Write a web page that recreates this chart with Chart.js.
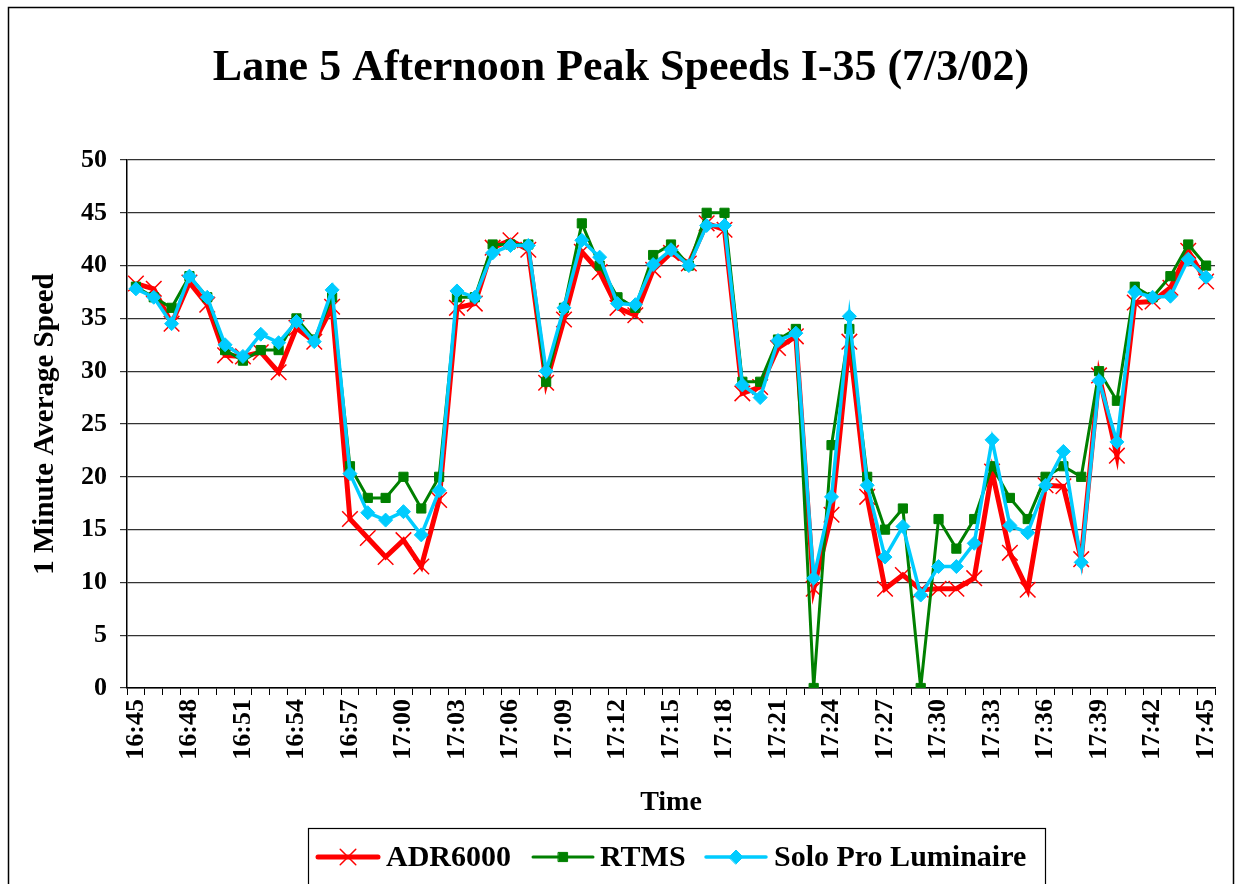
<!DOCTYPE html>
<html>
<head>
<meta charset="utf-8">
<script src="https://cdn.jsdelivr.net/npm/chart.js@4.4.1/dist/chart.umd.min.js"></script>
<style>
  html, body { margin: 0; padding: 0; background: #fff; }
  #wrap { width: 1238px; height: 884px; position: relative; }
</style>
</head>
<body>
<div id="wrap"><canvas id="c"></canvas></div>
<script>
// one-minute bins, 16:45 .. 17:45
var times = [];
for (var m = 45; m <= 105; m++) {
  var h = 16 + Math.floor(m / 60), mm = m % 60;
  times.push(h + ':' + (mm < 10 ? '0' : '') + mm);
}

var adr6000 = [38.3, 37.8, 34.5, 38.4, 36.3, 31.5, 31.4, 31.8, 29.9, 34.1, 32.8, 36.1,
  16.0, 14.2, 12.4, 14.0, 11.5, 17.8, 36.0, 36.4, 41.7, 42.4, 41.5, 28.9, 34.9, 41.3,
  39.4, 36.0, 35.3, 39.6, 41.2, 40.2, 44.0, 43.4, 27.9, 28.5, 32.2, 33.3, 9.4, 16.4,
  32.8, 18.1, 9.4, 10.7, 9.3, 9.4, 9.4, 10.4, 20.5, 12.8, 9.3, 19.2, 19.1, 12.2,
  29.6, 22.0, 36.5, 36.6, 37.9, 41.4, 38.5];

var rtms = [38, 37, 36, 39, 37, 32, 31, 32, 32, 35, 33, 37,
  21, 18, 18, 20, 17, 20, 37, 37, 42, 42, 42, 29, 36, 44,
  40, 37, 36, 41, 42, 40, 45, 45, 29, 29, 33, 34, 0, 23,
  34, 20, 15, 17, 0, 16, 13.2, 16, 21, 18, 16, 20, 21, 20,
  30, 27.2, 38, 37, 39, 42, 40];

var soloPro = [37.8, 37.0, 34.5, 39.0, 37.0, 32.5, 31.4, 33.5, 32.7, 34.7, 32.8, 37.7,
  20.3, 16.6, 15.9, 16.7, 14.5, 18.7, 37.6, 37.0, 41.2, 41.9, 41.9, 30.0, 36.0, 42.4,
  40.8, 36.4, 36.3, 40.1, 41.5, 40.0, 43.8, 43.8, 28.7, 27.5, 32.9, 33.6, 10.4, 18.1,
  35.2, 19.2, 12.4, 15.3, 8.8, 11.5, 11.5, 13.7, 23.5, 15.4, 14.7, 19.2, 22.4, 11.9,
  29.1, 23.3, 37.5, 37.0, 37.1, 40.6, 38.9];

var yTicks = [0, 5, 10, 15, 20, 25, 30, 35, 40, 45, 50];

var serif = '"Liberation Serif", "Times New Roman", serif';

var cv = document.getElementById('c');
cv.width = 1238; cv.height = 884;

// title, frame and boxed legend drawn on the canvas
var extras = {
  id: 'extras',
  afterDraw: function (chart) {
    var ctx = chart.ctx;
    ctx.save();
    ctx.strokeStyle = '#000';
    ctx.lineWidth = 1.5;
    ctx.strokeRect(8.5, 7.5, 1225, 890);

    ctx.fillStyle = '#000';
    ctx.font = 'bold 44px ' + serif;
    ctx.textAlign = 'center';
    ctx.textBaseline = 'alphabetic';
    ctx.fillText('Lane 5 Afternoon Peak Speeds I-35 (7/3/02)', 621, 80);

    // legend
    ctx.lineWidth = 1.2;
    ctx.strokeRect(308.5, 828.5, 737, 70);
    var items = [
      { ds: chart.data.datasets[0], x: 318, tx: 386, rot: 45 },
      { ds: chart.data.datasets[1], x: 533, tx: 600, rot: 0 },
      { ds: chart.data.datasets[2], x: 706, tx: 774, rot: 0 }
    ];
    var ly = 857;
    items.forEach(function (it) {
      var d = it.ds;
      ctx.strokeStyle = d.borderColor;
      ctx.lineWidth = d.borderWidth;
      ctx.lineCap = 'round';
      ctx.beginPath();
      ctx.moveTo(it.x, ly);
      ctx.lineTo(it.x + 60, ly);
      ctx.stroke();
      ctx.fillStyle = d.pointBackgroundColor;
      ctx.strokeStyle = d.pointBorderColor;
      ctx.lineWidth = d.pointBorderWidth;
      Chart.helpers.drawPoint(ctx, {
        pointStyle: d.pointStyle,
        radius: d.pointRadius,
        rotation: it.rot,
        borderWidth: d.pointBorderWidth
      }, it.x + 30, ly);
      ctx.fillStyle = '#000';
      ctx.font = 'bold 30px ' + serif;
      ctx.textAlign = 'left';
      ctx.textBaseline = 'middle';
      ctx.fillText(d.label, it.tx, ly + 1);
    });
    ctx.restore();
  }
};

new Chart(cv, {
  type: 'line',
  data: {
    labels: times,
    datasets: [
      {
        label: 'ADR6000', data: adr6000,
        borderColor: '#ff0000', borderWidth: 5,
        pointStyle: 'cross', pointRotation: 45, pointRadius: 11,
        pointBorderColor: '#ff0000', pointBackgroundColor: '#ff0000', pointBorderWidth: 1.5,
        order: 3
      },
      {
        label: 'RTMS', data: rtms,
        borderColor: '#008000', borderWidth: 3,
        pointStyle: 'rect', pointRadius: 6.5,
        pointBorderColor: '#008000', pointBackgroundColor: '#008000', pointBorderWidth: 1,
        order: 2
      },
      {
        label: 'Solo Pro Luminaire', data: soloPro,
        borderColor: '#00ccff', borderWidth: 3.5,
        pointStyle: 'rectRot', pointRadius: 7,
        pointBorderColor: '#00ccff', pointBackgroundColor: '#00ccff', pointBorderWidth: 1,
        order: 1
      }
    ]
  },
  options: {
    responsive: false,
    animation: false,
    devicePixelRatio: 1,
    layout: { padding: { left: 0, top: 160, right: 23, bottom: 0 } },
    elements: { line: { tension: 0 } },
    plugins: {
      legend: { display: false },
      title: { display: false },
      tooltip: { enabled: false }
    },
    scales: {
      x: {
        offset: true,
        afterFit: function (s) { s.height = 196; s.paddingRight = 0; s.paddingLeft = 0; },
        grid: { display: true, offset: true, drawOnChartArea: false, drawTicks: true, tickLength: 7, color: '#000' },
        border: { display: true, color: '#000', width: 1.5 },
        ticks: {
          autoSkip: false, minRotation: 90, maxRotation: 90, padding: 4,
          color: '#000', font: { family: serif, size: 26, weight: 'bold' },
          callback: function (v, i) { return i % 3 === 0 ? times[i] : ''; }
        },
        title: {
          display: true, text: 'Time', color: '#000',
          font: { family: serif, size: 28, weight: 'bold' },
          padding: { top: 0, bottom: 64 }
        }
      },
      y: {
        min: 0, max: 50,
        afterFit: function (s) { s.width = 127; },
        afterBuildTicks: function (s) { s.ticks = yTicks.map(function (v) { return { value: v }; }); },
        grid: { color: '#333', lineWidth: 1.2, tickLength: 7, drawTicks: true },
        border: { display: true, color: '#000', width: 1.5 },
        ticks: {
          padding: 13, color: '#000',
          font: { family: serif, size: 26, weight: 'bold' }
        },
        title: {
          display: true, text: '1 Minute Average Speed', color: '#000',
          font: { family: serif, size: 29, weight: 'bold' },
          padding: { top: 28, bottom: 0 }
        }
      }
    }
  },
  plugins: [extras]
});
</script>
</body>
</html>
